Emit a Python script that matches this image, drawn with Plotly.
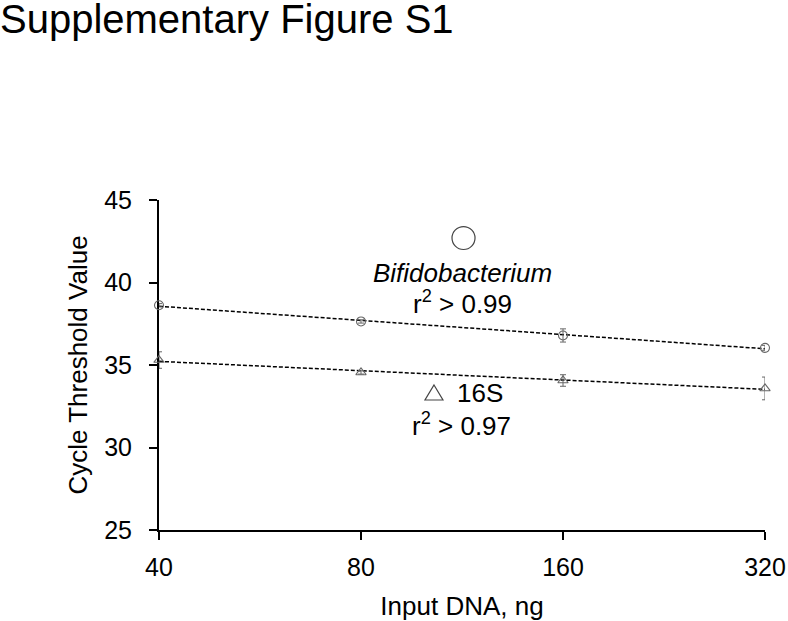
import numpy as np
import plotly.graph_objects as go

# ---- data ----
input_dna = [40, 80, 160, 320]
bifido_ct = [38.62, 37.64, 36.79, 36.04]
bifido_err = [0.1, 0.1, 0.4, 0.15]
s16_ct = [35.30, 34.55, 34.06, 33.58]
s16_err = [0.5, 0.1, 0.35, 0.69]
x_ticks = [40, 80, 160, 320]
y_ticks = [25, 30, 35, 40, 45]

FONT = "Liberation Sans, Arial, sans-serif"
GRAY = "#666666"

def fit_line(x, y):
    lx = np.log2(np.array(x, dtype=float))
    m, b = np.polyfit(lx, np.array(y), 1)
    xs = np.array([x[0], x[-1]], dtype=float)
    return xs, m * np.log2(xs) + b

fig = go.Figure()

for ys in (bifido_ct, s16_ct):
    xs, yfit = fit_line(input_dna, ys)
    fig.add_trace(go.Scatter(x=xs, y=yfit, mode="lines",
                             line=dict(color="black", width=1.5, dash="4px,2px"),
                             showlegend=False, hoverinfo="skip", cliponaxis=False))

fig.add_trace(go.Scatter(
    x=input_dna, y=bifido_ct, mode="markers", cliponaxis=False,
    marker=dict(symbol="circle-open", size=9, color=GRAY, line=dict(width=1.1)),
    error_y=dict(type="data", array=bifido_err, color=GRAY, thickness=1, width=3),
    showlegend=False))
fig.add_trace(go.Scatter(
    x=input_dna, y=s16_ct, mode="markers", cliponaxis=False,
    marker=dict(symbol="triangle-up-open", size=9, color=GRAY, line=dict(width=1.1)),
    error_y=dict(type="data", array=s16_err, color=GRAY, thickness=1, width=3),
    showlegend=False))

# legend-like glyphs
fig.add_shape(type="circle", xref="paper", yref="paper",
              x0=0.5025 - 0.019, x1=0.5025 + 0.019,
              y0=0.8848 - 0.0348, y1=0.8848 + 0.0348,
              line=dict(color="#444444", width=1.2))
fig.add_shape(type="path", xref="paper", yref="paper",
              path="M 0.4538 0.4394 L 0.4686 0.3939 L 0.4389 0.3939 Z",
              line=dict(color="#444444", width=1.2))

ann_font = dict(family=FONT, size=26, color="black")
fig.add_annotation(text="<i>Bifidobacterium</i>", xref="paper", yref="paper",
                   x=0.5008, y=0.7788, showarrow=False, font=ann_font,
                   xanchor="center", yanchor="middle")
fig.add_annotation(text="r<sup>2</sup> &gt; 0.99", xref="paper", yref="paper",
                   x=0.500, y=0.690, showarrow=False, font=ann_font,
                   xanchor="center", yanchor="middle")
fig.add_annotation(text="16S", xref="paper", yref="paper",
                   x=0.5297, y=0.415, showarrow=False, font=ann_font,
                   xanchor="center", yanchor="middle")
fig.add_annotation(text="r<sup>2</sup> &gt; 0.97", xref="paper", yref="paper",
                   x=0.499, y=0.320, showarrow=False, font=ann_font,
                   xanchor="center", yanchor="middle")

x_lo = np.log10(x_ticks[0]) - 1e-6
x_hi = np.log10(x_ticks[-1]) + 1e-6

fig.update_layout(
    width=788, height=621,
    margin=dict(l=159, r=23, t=200, b=91),
    paper_bgcolor="white", plot_bgcolor="white",
    font=dict(family=FONT, color="black"),
    title=dict(text="Supplementary Figure S1", x=0.0, xref="container", xanchor="left",
               y=1.0, yref="container", yanchor="top", pad=dict(t=5, l=0),
               automargin=False,
               font=dict(family=FONT, size=40, color="black")),
    xaxis=dict(type="log", range=[x_lo, x_hi], automargin=False,
               tickvals=x_ticks, ticktext=[str(v) for v in x_ticks], layer="below traces",
               showgrid=False, zeroline=False, showline=True, linecolor="black", linewidth=2,
               ticks="outside", ticklen=8, tickwidth=2, tickcolor="black",
               tickfont=dict(family=FONT, size=25, color="black"),
               ticklabelstandoff=6,
               title=dict(text="Input DNA, ng", font=dict(family=FONT, size=26, color="black"),
                          standoff=26)),
    yaxis=dict(range=[25, 45], tickvals=y_ticks, automargin=False, layer="below traces",
               showgrid=False, zeroline=False, showline=True, linecolor="black", linewidth=2,
               ticks="outside", ticklen=8, tickwidth=2, tickcolor="black",
               tickfont=dict(family=FONT, size=25, color="black"),
               ticklabelstandoff=12,
               title=dict(text="Cycle Threshold Value", font=dict(family=FONT, size=26, color="black"),
                          standoff=9)),
)

fig.write_html("out.html", config={"displayModeBar": False},
               post_script="document.body.style.margin='0';document.body.style.overflow='hidden';")
